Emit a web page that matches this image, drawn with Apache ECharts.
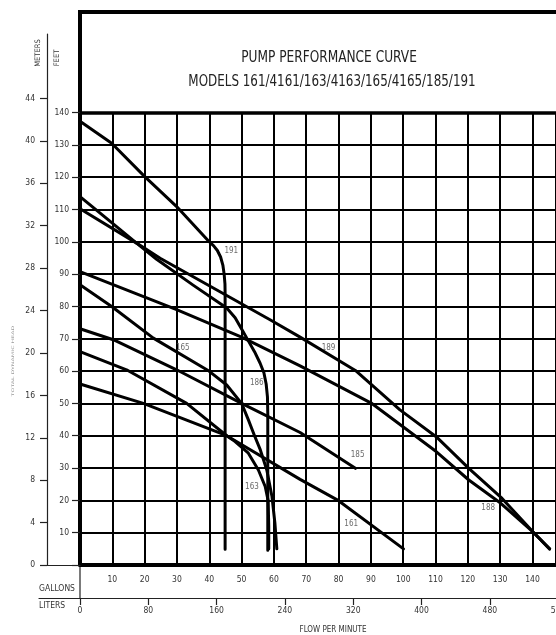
<!DOCTYPE html>
<html>
<head>
<meta charset="utf-8">
<script src="https://cdn.jsdelivr.net/npm/echarts@6/dist/echarts.min.js"></script>
<style>
html,body{margin:0;padding:0;background:#fff;}
#chart{width:556px;height:635px;}
</style>
</head>
<body>
<div id="chart"></div>
<script>
// ---- data (gallons per minute, feet of head) ----
const curve191 = [[0,137.3],[9.8,130.5],[19.8,120.4],[29.9,110.9],[39.9,100.1],[41.3,98.8],[42.5,97.3],[43.5,95.3],[44.2,92.8],[44.6,90],[44.85,87],[44.9,84],[44.9,4.9]];
const curve189 = [[0,110.2],[17.5,99.6],[24.8,94.9],[58.8,75.9],[68.1,70.5],[85.2,60.2],[99,48],[110.2,39.7],[120.3,29.9],[130.6,20.6],[140.4,10],[145.3,5]];
const curve186 = [[0,114],[10,105.8],[17.5,99.6],[23.7,94.6],[35,86.6],[45.4,79.5],[48,76.5],[50,73],[52,69.5],[54,66],[55.7,62.5],[56.9,59.5],[57.6,56],[58,52],[58.1,47],[58.1,4.6]];
const curve188 = [[0,90.8],[29.9,79],[50,70.5],[68.1,61.6],[90.1,50.1],[110.2,35.1],[120.3,26.3],[130.2,19.1],[140.4,10],[145.3,5]];
const curve165 = [[0,86.7],[9.8,80],[22.7,70.2],[39.9,60],[45.4,55.7],[50,50],[52.1,44.9],[54,40],[55.8,35.6],[57.8,29.4],[59.4,21.2],[60.3,13],[60.9,5]];
const curve185 = [[0,73.1],[10.3,69.7],[29.9,60.4],[50,50],[68.1,41],[85.2,29.9]];
const curve163 = [[0,66],[14.4,60.4],[33,50],[45.4,40],[48,38.2],[52.1,34.6],[55.2,29.4],[57.3,24.3],[58.2,20],[58.4,12],[58.4,5]];
const curve161 = [[0,56],[19.6,50],[45.4,40],[68.1,26.5],[80,19.9],[100.1,5]];
const curveLabels = [[46.8,97.3,'191'],[76.9,67.1,'189'],[31.8,67.1,'165'],[54.7,56.3,'186'],[85.9,34.1,'185'],[53.2,24.2,'163'],[83.9,12.7,'161'],[126.3,17.7,'188']];
const literTicks = [0,80,160,240,320,400,480,560];
const meterTicks = [0,4,8,12,16,20,24,28,32,36,40,44];
const titleLines = ['PUMP PERFORMANCE CURVE','MODELS 161/4161/163/4163/165/4165/185/191'];

// ---- scale constants (layout) ----
const PX = 3.232;               // px per gallon and per foot
const L_PER_GAL = 3.78541;
const M_PER_FT = 0.3048;
const W = 556, H = 635;
const plotLeft = 80, plotBottomY = 565;
const ftMax = 140;
const plotTop = plotBottomY - ftMax * PX;
const galMax = (W - plotLeft) / PX;
const meterTop = 34;
const meterMax = (plotBottomY - meterTop) / PX * M_PER_FT;
const literLeft = 39, literWidth = 541;
const literMin = -(plotLeft - literLeft) / PX * L_PER_GAL;
const literMax = (literLeft + literWidth - plotLeft) / PX * L_PER_GAL;

const FONT = "'Liberation Sans Narrow','DejaVu Sans Condensed','Roboto Condensed',sans-serif";
const TXT = '#333';

function curve(name, data){
  return {name:name, type:'line', xAxisIndex:0, yAxisIndex:0, data:data, showSymbol:false, symbol:'none',
    lineStyle:{color:'#000', width:3, cap:'round', join:'round'}, silent:true, z:5};
}

const chart = echarts.init(document.getElementById('chart'), null, {renderer:'canvas'});
chart.setOption({
  animation:false,
  backgroundColor:'#fff',
  grid:[
    {left:plotLeft, top:plotTop, width:W - plotLeft, height:ftMax * PX, containLabel:false, outerBoundsMode:'none'},
    {left:47, top:meterTop, width:plotLeft - 47, height:plotBottomY - meterTop, containLabel:false, outerBoundsMode:'none'},
    {left:literLeft, top:590, width:literWidth, height:598 - 590, containLabel:false, outerBoundsMode:'none'}
  ],
  xAxis:[
    {type:'value', gridIndex:0, position:'bottom', min:0, max:galMax, interval:10,
      axisLine:{show:true, onZero:false, lineStyle:{color:'#000', width:4}},
      axisTick:{show:false},
      axisLabel:{show:true, showMaxLabel:false, margin:10, fontSize:8.5, color:TXT, fontFamily:FONT,
        formatter:function(v){return v===0?'':String(v);}},
      splitLine:{show:true, lineStyle:{color:'#000', width:2}}},
    {type:'value', gridIndex:0, position:'top', min:0, max:galMax,
      axisLine:{show:true, onZero:false, lineStyle:{color:'#000', width:3.5}},
      axisTick:{show:false}, axisLabel:{show:false}, splitLine:{show:false}},
    {type:'value', gridIndex:1, position:'bottom', min:0, max:1,
      axisLine:{show:true, onZero:false, lineStyle:{color:'#222', width:1.2}},
      axisTick:{show:false}, axisLabel:{show:false}, splitLine:{show:false}},
    {type:'value', gridIndex:2, position:'bottom', min:literMin, max:literMax,
      axisLine:{show:true, onZero:false, lineStyle:{color:'#222', width:1.2}},
      axisTick:{show:true, length:7, customValues:literTicks, lineStyle:{color:'#222', width:1.2}},
      axisLabel:{show:true, customValues:literTicks, margin:8, fontSize:8.5, color:TXT, fontFamily:FONT},
      splitLine:{show:false}}
  ],
  yAxis:[
    {type:'value', gridIndex:0, position:'left', min:0, max:ftMax, interval:10,
      axisLine:{show:true, onZero:false, lineStyle:{color:'#000', width:4}},
      axisTick:{show:true, length:8, lineStyle:{color:'#222', width:1.2}},
      axisLabel:{show:true, margin:11, fontSize:8.5, color:TXT, fontFamily:FONT,
        formatter:function(v){return v===0?'':String(v);}},
      splitLine:{show:true, lineStyle:{color:'#000', width:2}}},
    {type:'value', gridIndex:1, position:'left', min:0, max:meterMax,
      axisLine:{show:true, onZero:false, lineStyle:{color:'#222', width:1.2}},
      axisTick:{show:true, length:7, customValues:meterTicks, lineStyle:{color:'#222', width:1.2}},
      axisLabel:{show:true, customValues:meterTicks, margin:12, fontSize:8.5, color:TXT, fontFamily:FONT},
      splitLine:{show:false}},
    {type:'value', gridIndex:2, min:0, max:1, show:false}
  ],
  series:[
    curve('191', curve191),
    curve('189', curve189),
    curve('186', curve186),
    curve('188', curve188),
    curve('165', curve165),
    curve('185', curve185),
    curve('163', curve163),
    curve('161', curve161),
    {name:'labels', type:'scatter', xAxisIndex:0, yAxisIndex:0, data:curveLabels, symbolSize:1,
      itemStyle:{color:'rgba(0,0,0,0)'}, silent:true, z:6,
      label:{show:true, position:'inside', formatter:function(p){return p.data[2];},
        fontSize:8, color:'#444', fontFamily:FONT}}
  ],
  graphic:[
    {type:'line', shape:{x1:78, y1:12, x2:W, y2:12}, style:{stroke:'#000', lineWidth:4}, silent:true},
    {type:'line', shape:{x1:80, y1:10, x2:80, y2:plotTop}, style:{stroke:'#000', lineWidth:4}, silent:true},
    {type:'line', shape:{x1:80, y1:plotBottomY, x2:80, y2:598}, style:{stroke:'#222', lineWidth:1.2}, silent:true},
    {type:'text', x:329, y:58, scaleX:0.873, style:{text:titleLines[0], font:'15.5px '+FONT, fill:'#222', textAlign:'center', textVerticalAlign:'middle'}, silent:true},
    {type:'text', x:332, y:82, scaleX:0.855, style:{text:titleLines[1], font:'15.5px '+FONT, fill:'#222', textAlign:'center', textVerticalAlign:'middle'}, silent:true},
    {type:'text', x:38.5, y:53, rotation:Math.PI/2, style:{text:'METERS', font:'7.5px '+FONT, fill:TXT, textAlign:'center', textVerticalAlign:'middle'}, silent:true},
    {type:'text', x:57, y:58, rotation:Math.PI/2, style:{text:'FEET', font:'7.5px '+FONT, fill:TXT, textAlign:'center', textVerticalAlign:'middle'}, silent:true},
    {type:'text', x:13, y:361, rotation:Math.PI/2, scaleX:2, style:{text:'TOTAL DYNAMIC HEAD', font:'3.5px '+FONT, fill:'#999', textAlign:'center', textVerticalAlign:'middle'}, silent:true},
    {type:'text', x:39, y:589, style:{text:'GALLONS', font:'8.5px '+FONT, fill:TXT, textAlign:'left', textVerticalAlign:'middle'}, silent:true},
    {type:'text', x:39, y:606, style:{text:'LITERS', font:'8.5px '+FONT, fill:TXT, textAlign:'left', textVerticalAlign:'middle'}, silent:true},
    {type:'text', x:333, y:630, style:{text:'FLOW PER MINUTE', font:'8px '+FONT, fill:TXT, textAlign:'center', textVerticalAlign:'middle'}, silent:true}
  ]
});
</script>
</body>
</html>
